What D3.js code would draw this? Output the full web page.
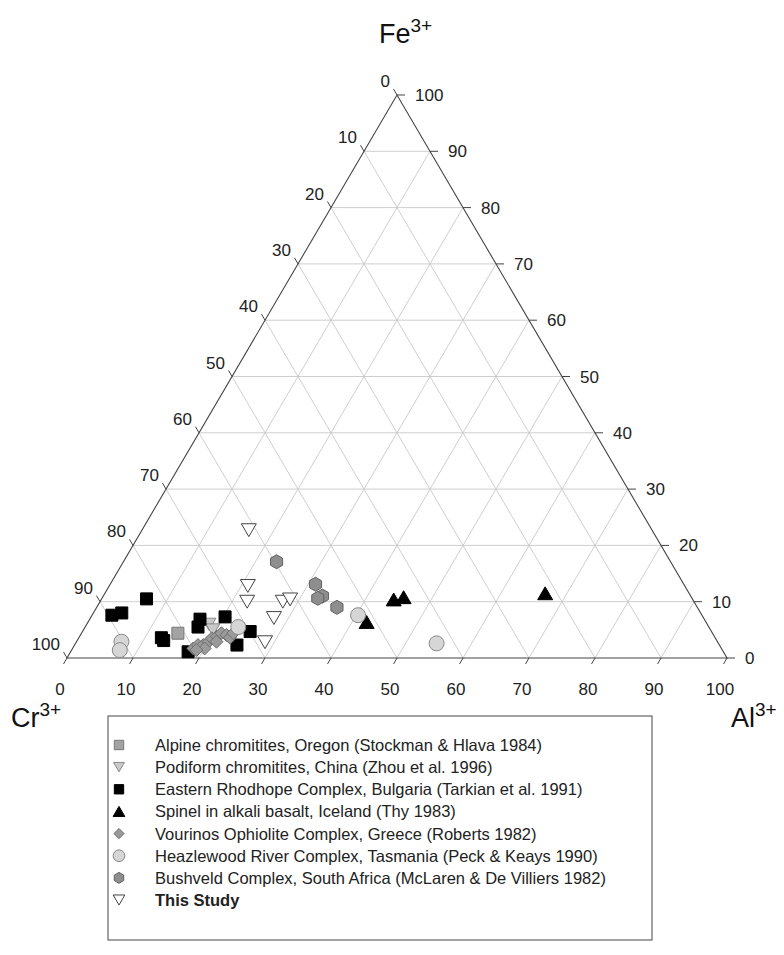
<!DOCTYPE html>
<html>
<head>
<meta charset="utf-8">
<script src="https://cdn.jsdelivr.net/npm/d3@7"></script>
<style>
  body { margin: 0; background: #fff; }
  svg { font-family: "Liberation Sans", Arial, sans-serif; }
</style>
</head>
<body>
<div id="chart"></div>
<script>
// each point is [Cr, Al, Fe] in percent
const alpine = [[81.0, 14.6, 4.4]];
const podiform = [[75.5, 18.5, 6.0], [75.4, 19.6, 5.0]];
const rhodope = [
  [89.4, 3.0, 7.6], [87.7, 4.3, 8.0], [82.7, 6.8, 10.5], [76.4, 16.7, 6.9],
  [77.4, 17.1, 5.5], [72.4, 20.3, 7.3], [83.9, 12.5, 3.6], [83.8, 13.1, 3.1],
  [81.1, 17.8, 1.1], [69.9, 25.4, 4.7], [73.1, 24.6, 2.3]
];
const iceland = [[45.3, 44.3, 10.4], [43.6, 45.6, 10.8], [51.4, 42.2, 6.4], [21.8, 66.7, 11.5]];
const vourinos = [
  [80.0, 18.3, 1.7], [79.0, 18.7, 2.3], [78.2, 19.5, 2.3], [77.1, 20.0, 2.9],
  [76.3, 20.2, 3.5], [75.4, 20.8, 3.8], [74.4, 21.2, 4.4], [73.8, 22.1, 4.1],
  [73.5, 22.9, 3.6], [72.6, 23.0, 4.4], [75.9, 21.2, 2.9], [78.3, 20.0, 1.7],
  [79.7, 18.9, 1.4]
];
const heazlewood = [[71.3, 23.2, 5.5], [90.3, 6.8, 2.9], [91.3, 7.3, 1.4], [52.1, 40.3, 7.6], [42.7, 54.7, 2.6]];
const bushveld = [[59.7, 23.2, 17.1], [55.8, 31.1, 13.1], [55.8, 33.2, 11.0], [56.7, 32.7, 10.6], [54.6, 36.4, 9.0]];
const thisStudy = [
  [61.1, 16.2, 22.7], [66.2, 21.0, 12.8], [67.7, 22.3, 10.0], [62.3, 27.7, 10.0],
  [61.0, 28.6, 10.4], [65.1, 27.8, 7.1], [68.6, 28.6, 2.8]
];

const ticks = [0, 10, 20, 30, 40, 50, 60, 70, 80, 90, 100];

const legendNames = [
  'Alpine chromitites, Oregon (Stockman & Hlava 1984)',
  'Podiform chromitites, China (Zhou et al. 1996)',
  'Eastern Rhodhope Complex, Bulgaria (Tarkian et al. 1991)',
  'Spinel in alkali basalt, Iceland (Thy 1983)',
  'Vourinos Ophiolite Complex, Greece (Roberts 1982)',
  'Heazlewood River Complex, Tasmania (Peck & Keays 1990)',
  'Bushveld Complex, South Africa (McLaren & De Villiers 1982)',
  'This Study'
];

const W = 784, H = 955;

const svg = d3.select('#chart').append('svg')
  .attr('width', W)
  .attr('height', H);

// scales: horizontal position from (Al + Fe/2), vertical from Fe
const x = d3.scaleLinear().domain([0, 100]).range([67, 727]);
const y = d3.scaleLinear().domain([0, 100]).range([658, 95]);
const px = d => x(d[1] + d[2] / 2);
const py = d => y(d[2]);

// grid lines
const grid = [];
for (let k = 10; k < 100; k += 10) {
  grid.push([[100 - k, 0, k], [0, 100 - k, k]]);   // Fe const
  grid.push([[100 - k, k, 0], [0, k, 100 - k]]);   // Al const
  grid.push([[k, 100 - k, 0], [k, 0, 100 - k]]);   // Cr const
}
svg.append('g').selectAll('line')
  .data(grid)
  .enter()
  .append('line')
  .attr('x1', d => px(d[0])).attr('y1', d => py(d[0]))
  .attr('x2', d => px(d[1])).attr('y2', d => py(d[1]))
  .attr('stroke', '#c8c8c8')
  .attr('stroke-width', 0.9);

// frame
const corners = [[100, 0, 0], [0, 100, 0], [0, 0, 100]];
svg.append('polygon')
  .attr('points', corners.map(c => px(c) + ',' + py(c)).join(' '))
  .attr('fill', 'none')
  .attr('stroke', '#444')
  .attr('stroke-width', 1.1);

const axisG = svg.append('g')
  .attr('font-size', 17)
  .attr('fill', '#222');
const tl = 7, c60 = 0.5, s60 = 0.866;

// left axis: Cr
ticks.forEach(v => {
  const p = [v, 0, 100 - v];
  const x0 = px(p), y0 = py(p);
  axisG.append('line')
    .attr('x1', x0).attr('y1', y0)
    .attr('x2', x0 - c60 * tl).attr('y2', y0 - s60 * tl)
    .attr('stroke', '#444');
  axisG.append('text')
    .attr('x', x0 - 7).attr('y', y0 - 8)
    .attr('text-anchor', 'end')
    .text(v);
});

// right axis: Fe
ticks.forEach(v => {
  const p = [0, 100 - v, v];
  const x0 = px(p), y0 = py(p);
  axisG.append('line')
    .attr('x1', x0).attr('y1', y0)
    .attr('x2', x0 + tl + 1).attr('y2', y0)
    .attr('stroke', '#444');
  axisG.append('text')
    .attr('x', x0 + 18).attr('y', y0 + 6)
    .text(v);
});

// bottom axis: Al
ticks.forEach(v => {
  const p = [100 - v, v, 0];
  const x0 = px(p), y0 = py(p);
  axisG.append('line')
    .attr('x1', x0).attr('y1', y0)
    .attr('x2', x0 - c60 * tl).attr('y2', y0 + s60 * tl)
    .attr('stroke', '#444');
  axisG.append('text')
    .attr('x', x0 - 7).attr('y', y0 + 37)
    .attr('text-anchor', 'middle')
    .text(v);
});

// vertex labels
function vertexLabel(tx, ty, base) {
  const t = svg.append('text')
    .attr('x', tx).attr('y', ty)
    .attr('font-size', 27)
    .attr('fill', '#111');
  t.append('tspan').text(base);
  t.append('tspan').attr('dy', -11).attr('font-size', 19).text('3+');
}
vertexLabel(379, 43, 'Fe');
vertexLabel(11, 727, 'Cr');
vertexLabel(731, 727, 'Al');

// marker shapes
const shapes = {
  square: s => `M${-s / 2},${-s / 2}h${s}v${s}h${-s}Z`,
  down: s => `M${-s / 2},${-s * 0.43}L${s / 2},${-s * 0.43}L0,${s * 0.43}Z`,
  up: s => `M${-s / 2},${s * 0.43}L${s / 2},${s * 0.43}L0,${-s * 0.43}Z`,
  diamond: s => `M0,${-s / 2}L${s / 2},0L0,${s / 2}L${-s / 2},0Z`,
  circle: s => `M${s / 2},0A${s / 2},${s / 2} 0 1,1 ${-s / 2},0A${s / 2},${s / 2} 0 1,1 ${s / 2},0Z`,
  hexagon: s => d3.range(6).map(i => {
    const a = Math.PI / 6 + i * Math.PI / 3;
    return (i ? 'L' : 'M') + (s / 2 * Math.cos(a)).toFixed(2) + ',' + (s / 2 * Math.sin(a)).toFixed(2);
  }).join('') + 'Z'
};

const series = [
  { data: alpine, shape: 'square', size: 12, fill: '#a3a3a3', stroke: '#777' },
  { data: podiform, shape: 'down', size: 14, fill: '#cacaca', stroke: '#888' },
  { data: rhodope, shape: 'square', size: 12, fill: '#000', stroke: '#000' },
  { data: iceland, shape: 'up', size: 15, fill: '#000', stroke: '#000' },
  { data: vourinos, shape: 'diamond', size: 13, fill: '#9a9a9a', stroke: '#6e6e6e' },
  { data: heazlewood, shape: 'circle', size: 15, fill: '#d6d6d6', stroke: '#888' },
  { data: bushveld, shape: 'hexagon', size: 14, fill: '#8e8e8e', stroke: '#606060' },
  { data: thisStudy, shape: 'down', size: 15, fill: '#fff', stroke: '#444' }
];

series.forEach(s => {
  svg.append('g').selectAll('path')
    .data(s.data)
    .enter()
    .append('path')
    .attr('transform', d => `translate(${px(d)},${py(d)})`)
    .attr('d', shapes[s.shape](s.size))
    .attr('fill', s.fill)
    .attr('stroke', s.stroke)
    .attr('stroke-width', 1);
});

// legend
const lg = svg.append('g');
lg.append('rect')
  .attr('x', 108).attr('y', 716)
  .attr('width', 544).attr('height', 224)
  .attr('fill', 'none')
  .attr('stroke', '#444')
  .attr('stroke-width', 1);

const row = d3.scaleLinear().domain([0, 7]).range([745, 900]);
series.forEach((s, i) => {
  lg.append('path')
    .attr('transform', `translate(119,${row(i)})`)
    .attr('d', shapes[s.shape](s.size * 0.78))
    .attr('fill', s.fill)
    .attr('stroke', s.stroke)
    .attr('stroke-width', 1);
  lg.append('text')
    .attr('x', 155).attr('y', row(i) + 6)
    .attr('font-size', 16.5)
    .attr('font-weight', i === 7 ? 'bold' : 'normal')
    .attr('fill', '#222')
    .text(legendNames[i]);
});
</script>
</body>
</html>
